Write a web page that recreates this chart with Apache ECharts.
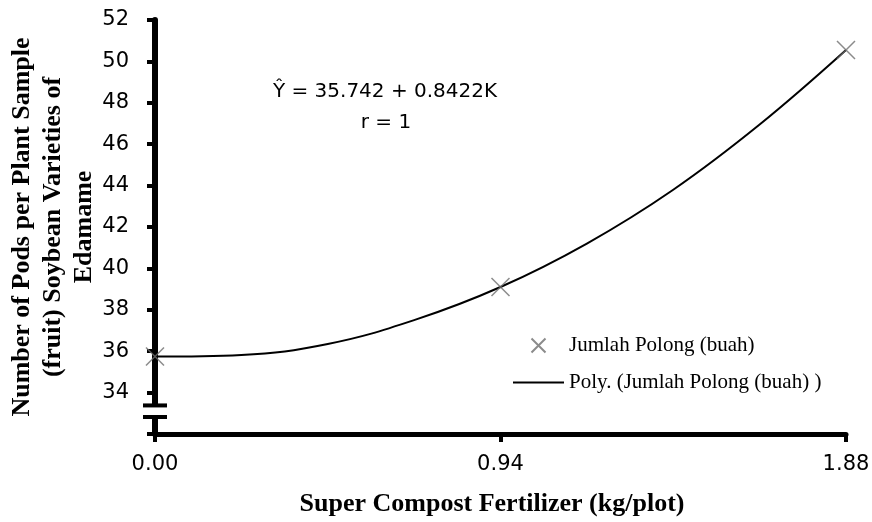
<!DOCTYPE html>
<html lang="en">

<head>
    <meta charset="UTF-8">
    <title>Jumlah Polong</title>
    <script src="https://cdn.jsdelivr.net/npm/echarts@6.0.0/dist/echarts.min.js"></script>
    <style>
        * {
            margin: 0;
            padding: 0
        }

        #main {
            width: 872px;
            height: 522px;
        }
    </style>
</head>

<body>
    <div id="main"></div>
    <script type="text/javascript">
        // dosis pupuk (kg/plot) dan jumlah polong
        var doses = [0, 0.94, 1.88];
        var pods = [35.74, 39.1, 50.55];
        // titik-titik garis tren polinomial
        var trendX = [0, 0.235, 0.47, 0.705, 0.94, 1.175, 1.41, 1.645, 1.88];
        var trendY = [35.74, 35.82, 36.35, 37.5, 39.1, 41.2, 43.8, 46.95, 50.55];
        var xTicks = [0, 0.94, 1.88];
        var yMin = 32, yMax = 52, yStep = 2;
        var breakHi = 33.38, breakLo = 32.82; // tanda patah sumbu Y

        var scatterData = doses.map(function (d, i) { return [d, pods[i]]; });
        var trendData = trendX.map(function (d, i) { return [d, trendY[i]]; });

        var xMark = 'path://M0,0L10,10M10,0L0,10';
        var myChart = echarts.init(document.getElementById('main'));

        var option = {
            animation: false,
            grid: { left: 155, right: 26, top: 20, bottom: 88, outerBoundsMode: 'none', containLabel: false },
            legend: {
                orient: 'vertical',
                left: 513,
                top: 335,
                padding: 0,
                itemWidth: 51,
                itemHeight: 14,
                itemGap: 16,
                textStyle: { fontFamily: 'Liberation Serif', fontSize: 21, color: '#000' },
                data: [
                    { name: 'Jumlah Polong (buah)', icon: xMark },
                    { name: 'Poly. (Jumlah Polong (buah) )', icon: 'path://M0,0L51,0L51,2L0,2Z' }
                ]
            },
            xAxis: {
                type: 'value',
                min: xTicks[0],
                max: xTicks[xTicks.length - 1],
                interval: 0.94,
                name: 'Super Compost Fertilizer (kg/plot)',
                nameLocation: 'middle',
                nameGap: 57,
                nameMoveOverlap: false,
                nameTextStyle: {
                    fontFamily: 'Liberation Serif', fontWeight: 'bold', fontSize: 26, color: '#000',
                    padding: [0, 17, 0, 0]
                },
                splitLine: { show: false },
                axisLine: { onZero: false, lineStyle: { color: '#000', width: 5 } },
                axisTick: { length: 8, lineStyle: { color: '#000', width: 4 } },
                axisLabel: {
                    margin: 20,
                    fontFamily: 'DejaVu Sans',
                    fontSize: 21,
                    color: '#000',
                    formatter: function (v) { return v.toFixed(2); }
                }
            },
            yAxis: {
                type: 'value',
                min: yMin,
                max: yMax,
                interval: yStep,
                name: 'Number of Pods per Plant Sample\n(fruit) Soybean Varieties of\nEdamame',
                nameLocation: 'middle',
                nameRotate: 90,
                nameGap: 55,
                nameMoveOverlap: false,
                nameTextStyle: { fontFamily: 'Liberation Serif', fontWeight: 'bold', fontSize: 26, lineHeight: 31, color: '#000' },
                splitLine: { show: false },
                axisLine: { onZero: false, lineStyle: { color: '#000', width: 6 } },
                axisTick: { length: 8, lineStyle: { color: '#000', width: 4 } },
                axisLabel: {
                    margin: 26,
                    fontFamily: 'DejaVu Sans',
                    fontSize: 21,
                    color: '#000',
                    formatter: function (v) { return v === yMin ? '' : v; }
                }
            },
            series: [
                {
                    name: 'Jumlah Polong (buah)',
                    type: 'scatter',
                    symbol: xMark,
                    symbolSize: 18,
                    z: 3,
                    itemStyle: { color: 'transparent', borderColor: '#6e6e6e', borderWidth: 1.5 },
                    data: scatterData
                },
                {
                    name: 'Poly. (Jumlah Polong (buah) )',
                    type: 'line',
                    smooth: 0.4,
                    symbol: 'none',
                    z: 2,
                    lineStyle: { color: '#000', width: 2 },
                    itemStyle: { color: '#000' },
                    data: trendData
                }
            ]
        };

        myChart.setOption(option);

        // tanda patah sumbu dan teks persamaan
        var ax = myChart.convertToPixel({ gridIndex: 0 }, [0, breakHi]);
        var bx = myChart.convertToPixel({ gridIndex: 0 }, [0, breakLo]);
        myChart.setOption({
            graphic: [
                {
                    type: 'rect', z: 100,
                    shape: { x: ax[0] - 5, y: ax[1], width: 10, height: bx[1] - ax[1] },
                    style: { fill: '#fff' }
                },
                {
                    type: 'rect', z: 101,
                    shape: { x: ax[0] - 12, y: ax[1] - 2, width: 24, height: 4 },
                    style: { fill: '#000' }
                },
                {
                    type: 'rect', z: 101,
                    shape: { x: ax[0] - 12, y: bx[1] - 2, width: 24, height: 4 },
                    style: { fill: '#000' }
                },
                {
                    type: 'text', x: 385, y: 92,
                    style: {
                        text: 'Ŷ = 35.742 + 0.8422K',
                        font: '20px "DejaVu Sans"', fill: '#000',
                        align: 'center', verticalAlign: 'middle'
                    }
                },
                {
                    type: 'text', x: 386, y: 123,
                    style: {
                        text: 'r = 1',
                        font: '20px "DejaVu Sans"', fill: '#000',
                        align: 'center', verticalAlign: 'middle'
                    }
                }
            ]
        });
    </script>
</body>

</html>
